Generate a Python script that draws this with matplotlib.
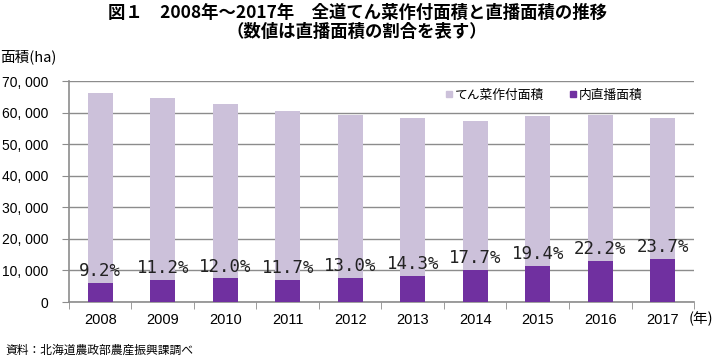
import matplotlib
matplotlib.use('Agg')
import matplotlib.pyplot as plt
from matplotlib.lines import Line2D
from matplotlib.ticker import FuncFormatter

plt.rcParams['font.family'] = ['Noto Sans CJK JP', 'DejaVu Sans']

years = ['2008', '2009', '2010', '2011', '2012', '2013', '2014', '2015', '2016', '2017']
total_area = [66100, 64500, 62700, 60400, 59200, 58200, 57200, 58800, 59400, 58200]
direct_area = [6050, 7100, 7500, 7050, 7700, 8300, 10100, 11400, 13100, 13700]
ratio_labels = ['9.2%', '11.2%', '12.0%', '11.7%', '13.0%', '14.3%', '17.7%', '19.4%', '22.2%', '23.7%']

light = '#ccc1da'
dark = '#7030a0'
grid_c = '#8c8c8c'
latin = ['Liberation Sans', 'DejaVu Sans']

fig = plt.figure(figsize=(7.14, 3.57), dpi=100)
ax = fig.add_axes([0.0966, 0.154, 0.8754, 0.619])

x = list(range(len(years)))
ax.bar(x, total_area, width=0.4, color=light, zorder=2)
ax.bar(x, direct_area, width=0.4, color=dark, zorder=3)

for i, lab in enumerate(ratio_labels):
    ax.text(i, direct_area[i] + 900, lab, ha='center', va='bottom', fontsize=12.5,
            family=['DejaVu Sans Mono'], color='#222222', zorder=4)

ax.set_xlim(-0.5, 9.5)
ax.set_ylim(0, 70000)
ax.set_yticks(range(0, 70001, 10000))
ax.yaxis.set_major_formatter(FuncFormatter(lambda v, p: '{:,}'.format(int(v)).replace(',', ', ')))
ax.grid(axis='y', color=grid_c, linewidth=1, zorder=0)
ax.set_axisbelow(True)

ax.set_xticks(x)
ax.set_xticklabels(years)
ax.set_xticks([i - 0.5 for i in range(len(years) + 1)], minor=True)
ax.tick_params(axis='x', which='major', length=0, pad=8)
ax.tick_params(axis='x', which='minor', length=5, color=grid_c, direction='out')
ax.tick_params(axis='y', length=5, color=grid_c, pad=10)
for lab in ax.get_xticklabels():
    lab.set_family(latin)
    lab.set_fontsize(10.5)
for lab in ax.get_yticklabels():
    lab.set_family(latin)
    lab.set_fontsize(10)

for s in ['top', 'right']:
    ax.spines[s].set_visible(False)
for s in ['left', 'bottom']:
    ax.spines[s].set_color(grid_c)
    ax.spines[s].set_linewidth(1.2)

handles = [Line2D([], [], marker='s', linestyle='none', color=light, markersize=4.5),
           Line2D([], [], marker='s', linestyle='none', color=dark, markersize=4.5)]
ax.legend(handles, ['てん菜作付面積', '内直播面積'], ncol=2, frameon=False, fontsize=9.2,
          loc='center left', bbox_to_anchor=(445 / 714, 1 - 95 / 357), bbox_transform=fig.transFigure,
          borderpad=0, borderaxespad=0, handletextpad=0.2, columnspacing=1.9, handlelength=0.6)

fig.text(0.5, 0.965, '図１　2008年～2017年　全道てん菜作付面積と直播面積の推移',
         ha='center', va='center', fontsize=12.5, fontweight='bold')
fig.text(0.5, 0.91, '（数値は直播面積の割合を表す）', ha='center', va='center',
         fontsize=12.5, fontweight='bold')
fig.text(0.0, 0.84, '面積(ha)', ha='left', va='center', fontsize=10.5)
fig.text(0.965, 0.108, '(年)', ha='left', va='center', fontsize=10.5)
fig.text(0.008, 0.02, '資料：北海道農政部農産振興課調べ', ha='left', va='center', fontsize=8.5)

fig.savefig('out.png', dpi=100)
